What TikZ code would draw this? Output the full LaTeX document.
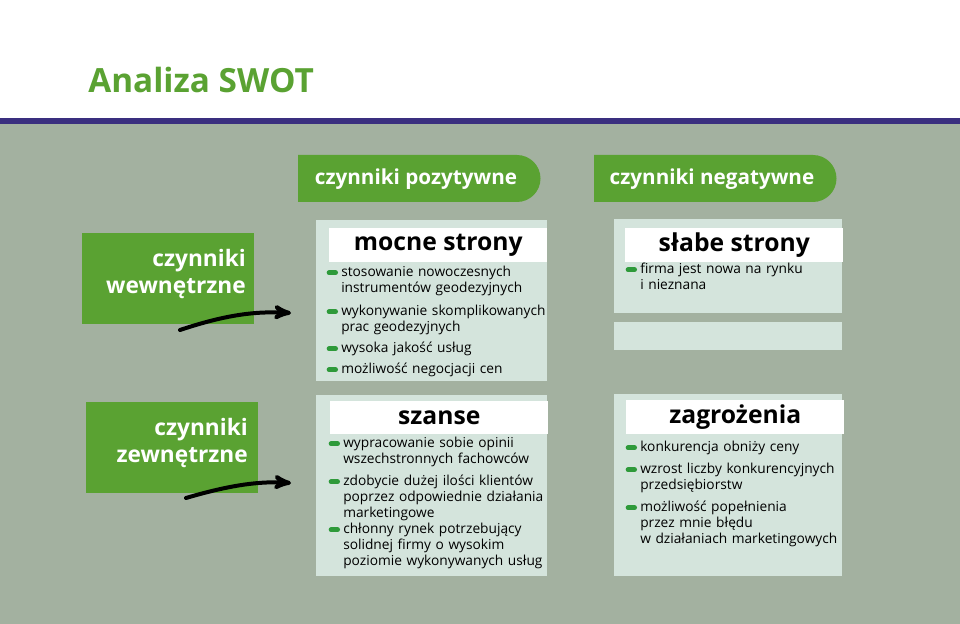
\documentclass[tikz,border=0pt]{standalone}
\usepackage{fontspec}
\setmainfont{Open Sans}
\usetikzlibrary{calc}
\usetikzlibrary{arrows}
\definecolor{swotgreen}{HTML}{5AA232}
\definecolor{swotbullet}{HTML}{2E9A3A}
\definecolor{swotbg}{HTML}{A3B1A0}
\definecolor{swotbox}{HTML}{D4E4DC}
\definecolor{swotline}{HTML}{3A2F7F}
\tikzset{
 side/.style={text=white, font=\fontsize{17}{20}\selectfont\bfseries, align=right, anchor=east, inner sep=0pt, text width=120pt},
 tabtext/.style={text=white, font=\fontsize{15.5}{18}\selectfont\bfseries},
 panel/.style={fill=swotbox, draw=none},
 headbar/.style={fill=white, anchor=north west, font=\fontsize{18.5}{21}\selectfont\bfseries, minimum width=163.5pt, minimum height=25pt, inner sep=0pt},
 item/.style={anchor=north west, font=\fontsize{10.3}{12}\selectfont, align=left, inner sep=0pt, text width=160pt},
}
\newcommand{\bul}[1]{\draw[swotbullet, line width=3.5pt, line cap=round] ($(#1.north west)+(-9pt,-5pt)$) --++(5pt,0);}
\begin{document}
\begin{tikzpicture}[x=0.75pt,y=-0.75pt]
\useasboundingbox (0,0) rectangle (960,624);
\fill[white] (0,0) rectangle (960,118);
\fill[swotbg] (0,124) rectangle (960,624);
\fill[swotline] (0,118) rectangle (960,124);
\node[anchor=west, text=swotgreen, font=\fontsize{25}{30}\selectfont\bfseries, inner sep=0pt] (title) at (88,80) {Analiza SWOT};
% tabs
\fill[swotgreen] (298,155) -- (517,155) arc[start angle=-90, end angle=90, radius=23.5] -- (298,202) -- cycle;
\node[tabtext] (pos) at (416,179) {czynniki pozytywne};
\fill[swotgreen] (594,155) -- (813,155) arc[start angle=-90, end angle=90, radius=23.5] -- (594,202) -- cycle;
\node[tabtext] (neg) at (712,179) {czynniki negatywne};
% side boxes
\fill[swotgreen] (82,233) rectangle (254,324);
\node[side] (wew) at (246,274) {czynniki\\wewnętrzne};
\fill[swotgreen] (86,402) rectangle (258,493);
\node[side] (zew) at (248,443) {czynniki\\zewnętrzne};
% panels
\fill[panel] (316,220) rectangle (547,381);
\fill[panel] (614,219) rectangle (842,313);
\fill[panel] (614,322) rectangle (842,350);
\fill[panel] (316,395) rectangle (547,576);
\fill[panel] (614,394) rectangle (842,576);
\node[headbar] (mocne) at (329,228) {mocne strony};
\node[headbar] (slabe) at (625,228) {słabe strony};
\node[headbar, minimum height=24.75pt] (szanse) at (330,401) {szanse};
\node[headbar, minimum height=25.5pt] (zagr) at (626,400) {zagrożenia};
% items
\node[item] (m1) at (341,266) {stosowanie nowoczesnych\\instrumentów geodezyjnych};
\node[item] (m2) at (341,305) {wykonywanie skomplikowanych\\prac geodezyjnych};
\node[item] (m3) at (341,342) {wysoka jakość usług};
\node[item] (m4) at (341,363) {możliwość negocjacji cen};
\node[item] (s1) at (640,263) {firma jest nowa na rynku\\i nieznana};
\node[item] (o1) at (343,437) {wypracowanie sobie opinii\\wszechstronnych fachowców};
\node[item] (o2) at (343,475) {zdobycie dużej ilości klientów\\poprzez odpowiednie działania\\marketingowe};
\node[item] (o3) at (343,523) {chłonny rynek potrzebujący\\solidnej firmy o wysokim\\poziomie wykonywanych usług};
\node[item] (t1) at (640,441) {konkurencja obniży ceny};
\node[item] (t2) at (640,463) {wzrost liczby konkurencyjnych\\przedsiębiorstw};
\node[item] (t3) at (640,501) {możliwość popełnienia\\przez mnie błędu\\w działaniach marketingowych};
\foreach \n in {m1,m2,m3,m4,s1,o1,o2,o3,t1,t2,t3} {\bul{\n}}
% arrows
\coordinate (a1) at (180,330);
\coordinate (b1) at (291,313);
\coordinate (a2) at (186,498);
\coordinate (b2) at (291,483);
\draw[black, line width=3pt, line cap=round, ->, >=stealth'] (a1) .. controls (225,315) and (255,311) .. (b1);
\draw[black, line width=3pt, line cap=round, ->, >=stealth'] (a2) .. controls (230,485) and (260,481) .. (b2);
\end{tikzpicture}
\end{document}
